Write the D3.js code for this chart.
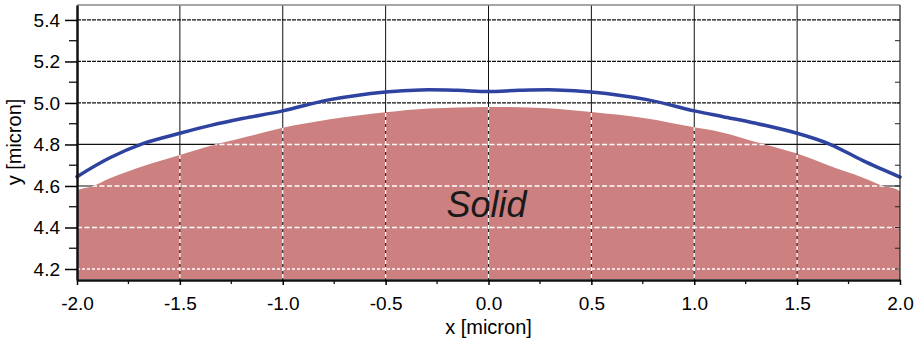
<!DOCTYPE html>
<html>
<head>
<meta charset="utf-8">
<script src="https://cdn.jsdelivr.net/npm/d3@7"></script>
<style>
  body { margin: 0; background: #fff; }
  text { font-family: "Liberation Sans", Arial, sans-serif; }
</style>
</head>
<body>
<div id="chart"></div>
<script>
// interface line (blue)
const lineX = [-2.0, -1.84, -1.68, -1.5, -1.35, -1.19, -1.0, -0.77, -0.5, -0.33, -0.15, 0.0, 0.15, 0.33, 0.5, 0.77, 1.0, 1.14, 1.3, 1.5, 1.66, 1.82, 2.0];
const lineY = [4.645, 4.736, 4.804, 4.854, 4.892, 4.926, 4.962, 5.016, 5.053, 5.063, 5.061, 5.055, 5.061, 5.063, 5.053, 5.016, 4.962, 4.934, 4.902, 4.854, 4.801, 4.722, 4.643];
// top of the solid region
const solidX = [-2.0, -1.98, -1.93, -1.84, -1.68, -1.5, -1.38, -1.19, -1.0, -0.77, -0.5, -0.29, 0.0, 0.29, 0.5, 0.77, 0.98, 1.14, 1.3, 1.5, 1.66, 1.82, 1.92, 1.98, 2.0];
const solidY = [4.580, 4.586, 4.597, 4.637, 4.695, 4.749, 4.785, 4.833, 4.880, 4.921, 4.955, 4.973, 4.981, 4.975, 4.956, 4.925, 4.886, 4.857, 4.812, 4.756, 4.696, 4.640, 4.600, 4.585, 4.575];
const xTicks = [-2.0, -1.5, -1.0, -0.5, 0.0, 0.5, 1.0, 1.5, 2.0];
const xMinor = [-1.75, -1.25, -0.75, -0.25, 0.25, 0.75, 1.25, 1.75];
const yTicks = [4.2, 4.4, 4.6, 4.8, 5.0, 5.2, 5.4];
const yMinor = [4.3, 4.5, 4.7, 4.9, 5.1, 5.3];

const margin = {top: 5, right: 20, bottom: 59, left: 77},
    width = 920 - margin.left - margin.right,
    height = 339 - margin.top - margin.bottom;

const svg = d3.select("#chart")
  .append("svg")
    .attr("width", 920)
    .attr("height", 339)
  .append("g")
    .attr("transform", `translate(${margin.left},${margin.top})`);

const x = d3.scaleLinear().domain([-2, 2]).range([0, width]);
const y = d3.scaleLinear().domain([4.147, 5.472]).range([height, 0]);

const solid = solidX.map((v, i) => [v, solidY[i]]);
const iface = lineX.map((v, i) => [v, lineY[i]]);

const area = d3.area()
    .x(d => x(d[0]))
    .y0(height - 1)
    .y1(d => y(d[1]))
    .curve(d3.curveMonotoneX);

svg.append("clipPath").attr("id", "solidClip")
  .append("path").datum(solid).attr("d", area);

// black grid, sits under the fill
const gridDark = svg.append("g");
gridDark.selectAll("line.v")
  .data(xTicks.slice(1, -1))
  .join("line")
    .attr("x1", d => x(d)).attr("x2", d => x(d))
    .attr("y1", 0).attr("y2", height)
    .attr("stroke", "#111").attr("stroke-width", 1);
gridDark.selectAll("line.h")
  .data(yTicks)
  .join("line")
    .attr("x1", 0).attr("x2", width)
    .attr("y1", d => y(d)).attr("y2", d => y(d))
    .attr("stroke", "#111").attr("stroke-width", 1.2)
    .attr("stroke-dasharray", d => d > 4.9 ? "4,1" : null);

svg.append("path")
    .datum(solid)
    .attr("d", area)
    .attr("fill", "#cc8080");

// grid drawn over the solid
const gridLight = svg.append("g").attr("clip-path", "url(#solidClip)");
gridLight.selectAll("line.vb")
  .data(xTicks.slice(1, -1))
  .join("line")
    .attr("x1", d => x(d)).attr("x2", d => x(d))
    .attr("y1", 0).attr("y2", height)
    .attr("stroke", "#222").attr("stroke-width", 1)
    .attr("stroke-dasharray", "3,4");
gridLight.selectAll("line.vw")
  .data(xTicks.slice(1, -1))
  .join("line")
    .attr("x1", d => x(d)).attr("x2", d => x(d))
    .attr("y1", 0).attr("y2", height)
    .attr("stroke", "#fff").attr("stroke-width", 1.2)
    .attr("stroke-dasharray", "4,3")
    .attr("stroke-dashoffset", 4);
gridLight.selectAll("line.hw")
  .data(yTicks)
  .join("line")
    .attr("x1", 0).attr("x2", width)
    .attr("y1", d => y(d)).attr("y2", d => y(d))
    .attr("stroke", "#fff").attr("stroke-width", 1.6)
    .attr("stroke-dasharray", d => d < 4.3 ? "3,2" : "5,2.5");

svg.append("text")
    .attr("x", x(0) - 2)
    .attr("y", y(4.4) - 10)
    .attr("text-anchor", "middle")
    .style("font-size", "36px")
    .style("font-style", "italic")
    .attr("fill", "#1a1a1a")
    .text("Solid");

svg.append("path")
    .datum(iface)
    .attr("d", d3.line().x(d => x(d[0])).y(d => y(d[1])).curve(d3.curveCatmullRom.alpha(0.5)))
    .attr("fill", "none")
    .attr("stroke", "#2e43a0")
    .attr("stroke-width", 3.5)
    .attr("stroke-linecap", "round");

// frame
svg.append("line").attr("x1", 0).attr("x2", width).attr("y1", 0).attr("y2", 0)
    .attr("stroke", "#888").attr("stroke-width", 1.5);
svg.append("line").attr("x1", width).attr("x2", width).attr("y1", 0).attr("y2", height)
    .attr("stroke", "#222").attr("stroke-width", 1.2);
svg.selectAll("line.rt")
  .data(yTicks.concat(yMinor))
  .join("line")
    .attr("x1", width - 5).attr("x2", width)
    .attr("y1", d => y(d)).attr("y2", d => y(d))
    .attr("stroke", "#222").attr("stroke-width", 1);

// x axis
const xAxis = svg.append("g")
    .attr("transform", `translate(0, ${height})`)
    .call(d3.axisBottom(x).tickValues(xTicks).tickSize(5).tickSizeOuter(0));
xAxis.select(".domain").attr("stroke-width", 2.5).attr("stroke", "#111");
xAxis.selectAll(".tick line").attr("stroke-width", 1.5);
xAxis.selectAll(".tick text")
    .style("font-size", "19px")
    .attr("dy", "1.15em")
    .text(d => d3.format(".1f")(d).replace("−", "-"));
svg.append("g")
    .attr("transform", `translate(0, ${height})`)
  .selectAll("line")
  .data(xMinor)
  .join("line")
    .attr("x1", d => x(d)).attr("x2", d => x(d))
    .attr("y1", 0).attr("y2", 4)
    .attr("stroke", "#111").attr("stroke-width", 1.3);

// y axis
const yAxis = svg.append("g")
    .call(d3.axisLeft(y).tickValues(yTicks).tickSize(12).tickSizeOuter(0).tickFormat(d3.format(".1f")));
yAxis.select(".domain").attr("stroke-width", 2.5).attr("stroke", "#111");
yAxis.selectAll(".tick line").attr("stroke-width", 1.5);
yAxis.selectAll(".tick text")
    .style("font-size", "19px")
    .attr("x", -17);
svg.append("g")
  .selectAll("line")
  .data(yMinor)
  .join("line")
    .attr("x1", -8).attr("x2", 0)
    .attr("y1", d => y(d)).attr("y2", d => y(d))
    .attr("stroke", "#111").attr("stroke-width", 1.3);

svg.append("text")
    .attr("x", width / 2 + 0)
    .attr("y", height + 54)
    .attr("text-anchor", "middle")
    .style("font-size", "20px")
    .text("x [micron]");

svg.append("text")
    .attr("transform", `translate(${-56}, ${137}) rotate(-90)`)
    .attr("text-anchor", "middle")
    .style("font-size", "20px")
    .text("y [micron]");
</script>
</body>
</html>
